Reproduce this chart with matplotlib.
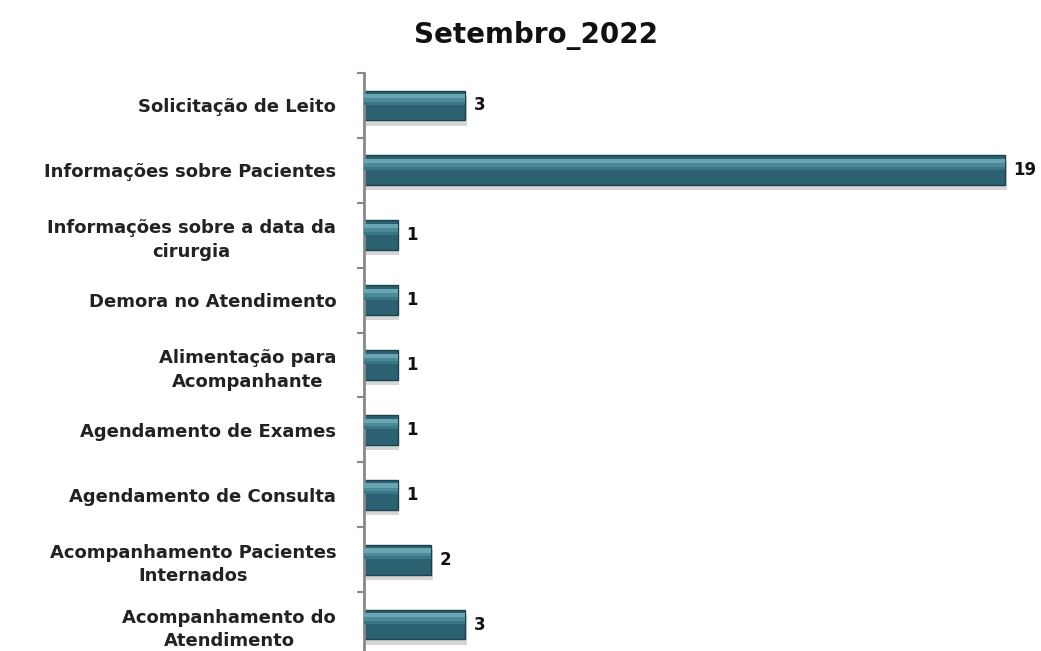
import matplotlib
matplotlib.use("Agg")
import matplotlib.pyplot as plt
import numpy as np

categories = [
    "Solicitação de Leito",
    "Informações sobre Pacientes",
    "Informações sobre a data da\ncirurgia",
    "Demora no Atendimento",
    "Alimentação para\nAcompanhante",
    "Agendamento de Exames",
    "Agendamento de Consulta",
    "Acompanhamento Pacientes\nInternados",
    "Acompanhamento do\nAtendimento",
]
values = [3, 19, 1, 1, 1, 1, 1, 2, 3]
title = "Setembro_2022"

plt.rcParams['font.family'] = ['DejaVu Sans']

fig = plt.figure(figsize=(10.41, 6.51), dpi=100)
ax = fig.add_axes([364/1041, 1 - 657/651, (1015 - 364)/1041, (657 - 73)/651])

n = len(categories)
y = np.arange(n)
h = 0.46

# shadow
ax.barh(y + 0.08, values, height=h, left=0.05, color="#d6d6d6", zorder=1)
# main bar
ax.barh(y, values, height=h, color="#2b6170", edgecolor="#1b434e", linewidth=1.0, zorder=2)
# soft highlight near top
ax.barh(y - h * 0.31, values, height=h * 0.14, color="#6aa5b3", zorder=3, linewidth=0)
ax.barh(y - h * 0.18, values, height=h * 0.12, color="#4a8a99", zorder=3, linewidth=0)
ax.barh(y - h * 0.07, values, height=h * 0.10, color="#3a7686", zorder=3, linewidth=0)

for yi, v in zip(y, values):
    ax.annotate(str(v), xy=(v, yi), xytext=(6, 0), textcoords="offset points",
                ha="left", va="center", fontsize=12, fontweight="bold", color="#111111")

ax.set_xlim(0, 19.3)
ax.set_ylim(n - 0.5, -0.5)
ax.set_yticks(y)
ax.set_yticklabels(categories, fontsize=13, fontweight="bold",
                   multialignment="center", linespacing=1.4)
ax.set_yticks(np.arange(-0.5, n, 1), minor=True)
ax.tick_params(axis="y", which="major", length=0, pad=20, labelcolor="#222222")
ax.tick_params(axis="y", which="minor", length=5, width=1.5, color="#888888", direction="out")
ax.set_xticks([])
for s in ["top", "right", "bottom"]:
    ax.spines[s].set_visible(False)
ax.spines["left"].set_color("#888888")
ax.spines["left"].set_linewidth(2)

fig.text(536/1041, 1 - 35/651, title, ha="center", va="center",
         fontsize=20, fontweight="bold", color="#111111")

fig.savefig("out.png", dpi=100)
